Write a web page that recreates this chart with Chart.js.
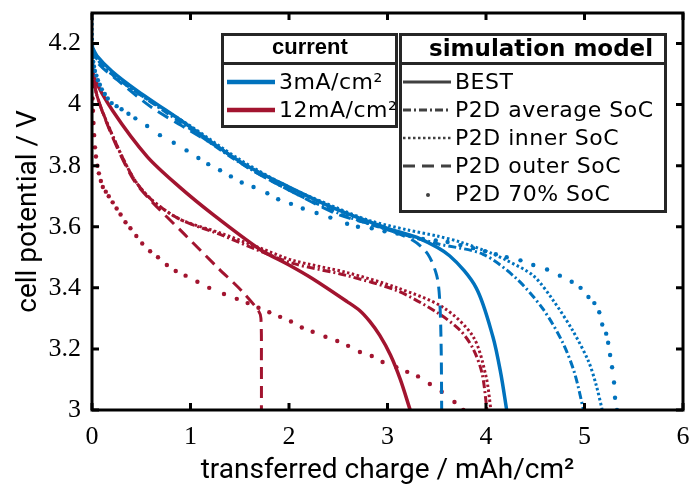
<!DOCTYPE html>
<html><head><meta charset="utf-8">
<script src="https://cdn.jsdelivr.net/npm/chart.js@4/dist/chart.umd.min.js"></script>
<style>
html,body{margin:0;padding:0;background:#fff;}
#wrap{position:relative;width:689px;height:486px;overflow:hidden;background:#fff;}
#c{position:absolute;left:0;top:0;}
.box{position:absolute;border:3px solid #262626;background:#fff;box-sizing:border-box;}
.sep{position:absolute;height:3px;background:#262626;}
.t{position:absolute;white-space:nowrap;line-height:1;color:#000;}
.lt{font-family:'DejaVu Sans';font-size:22px;letter-spacing:0.5px;}
</style></head><body>
<div id="wrap">
<canvas id="c" width="689" height="486"></canvas>
<div class="box" style="left:221px;top:33px;width:177px;height:95px;"></div>
<div class="sep" style="left:221px;top:62px;width:177px;"></div>
<div class="box" style="left:399px;top:33px;width:268px;height:180px;"></div>
<div class="sep" style="left:399px;top:62px;width:268px;"></div>
<div class="t" style="left:272px;top:36px;font-family:'Liberation Sans';font-weight:bold;font-size:22px;">current</div>
<div class="t" style="left:429px;top:37px;font-family:'DejaVu Sans';font-weight:bold;font-size:23px;">simulation model</div>
<div class="t lt" style="left:279px;top:71px;">3mA/cm²</div>
<div class="t lt" style="left:279px;top:99px;">12mA/cm²</div>
<div class="t lt" style="left:455px;top:71px;">BEST</div>
<div class="t lt" style="left:455px;top:99px;">P2D average SoC</div>
<div class="t lt" style="left:455px;top:127px;">P2D inner SoC</div>
<div class="t lt" style="left:455px;top:155px;">P2D outer SoC</div>
<div class="t lt" style="left:455px;top:183px;">P2D 70% SoC</div>
<svg style="position:absolute;left:0;top:0;" width="689" height="486">
 <line x1="227" y1="82" x2="275" y2="82" stroke="#0072BD" stroke-width="4.5"/>
 <line x1="227" y1="110" x2="275" y2="110" stroke="#A2142F" stroke-width="4.5"/>
 <line x1="403" y1="82" x2="451" y2="82" stroke="#404040" stroke-width="3"/>
 <line x1="403" y1="110" x2="451" y2="110" stroke="#404040" stroke-width="3" stroke-dasharray="8 3 2 3"/>
 <line x1="403" y1="138" x2="451" y2="138" stroke="#404040" stroke-width="2.5" stroke-dasharray="2.5 2.5"/>
 <line x1="403" y1="166" x2="451" y2="166" stroke="#404040" stroke-width="3" stroke-dasharray="12 7"/>
 <circle cx="428" cy="195" r="2" fill="#404040"/>
</svg>
</div>
<script>
// x: transferred charge (mAh/cm²), y: cell potential (V)
const xTicks = [0, 1, 2, 3, 4, 5, 6];
const yTicks = [3, 3.2, 3.4, 3.6, 3.8, 4, 4.2];

// 3 mA/cm²
const blueBestQ = [0, 0.05, 0.2, 0.44, 0.94, 1.52, 2.0, 2.5, 3.0, 3.3, 3.63, 3.9, 4.07, 4.15, 4.21];
const blueBestV = [4.19, 4.16, 4.11, 4.05, 3.94, 3.81, 3.73, 3.655, 3.595, 3.565, 3.505, 3.40, 3.24, 3.12, 3.0];
const blueAvgQ = [0, 0.05, 0.2, 0.5, 1.0, 1.5, 2.0, 2.5, 3.0, 3.5, 3.97, 4.31, 4.58, 4.78, 4.9, 4.99];
const blueAvgV = [4.19, 4.15, 4.10, 4.03, 3.92, 3.81, 3.72, 3.645, 3.59, 3.545, 3.51, 3.43, 3.33, 3.22, 3.12, 3.0];
const blueInnerQ = [0, 0.01, 0.05, 0.2, 0.5, 1.0, 1.5, 2.0, 2.5, 2.82, 3.2, 3.5, 3.74, 4.04, 4.21, 4.48, 4.68, 4.88, 5.04, 5.12, 5.18];
const blueInnerV = [4.30, 4.19, 4.15, 4.10, 4.03, 3.93, 3.82, 3.73, 3.66, 3.62, 3.59, 3.57, 3.55, 3.515, 3.49, 3.44, 3.36, 3.26, 3.16, 3.08, 3.0];
const blueOuterQ = [0, 0.05, 0.26, 0.61, 0.94, 1.28, 1.6, 2.0, 2.5, 2.92, 3.26, 3.41, 3.50, 3.53, 3.545, 3.55];
const blueOuterV = [4.19, 4.14, 4.08, 3.99, 3.925, 3.86, 3.79, 3.72, 3.64, 3.60, 3.555, 3.51, 3.44, 3.36, 3.2, 3.0];
const blue70Q = [0, 0.004, 0.008, 0.013, 0.02, 0.03, 0.045, 0.06, 0.08, 0.1, 0.13, 0.16, 0.2, 0.25, 0.3, 0.37, 0.44, 0.56, 0.69, 0.83, 0.96, 1.08, 1.18, 1.30, 1.41, 1.52, 1.64, 1.78, 1.89, 2.02, 2.14, 2.28, 2.42, 2.59, 2.70, 2.84, 2.97, 3.10, 3.23, 3.36, 3.49, 3.61, 3.74, 3.87, 3.99, 4.10, 4.21, 4.35, 4.48, 4.62, 4.75, 4.87, 4.96, 5.04, 5.10, 5.15, 5.18, 5.22, 5.24, 5.26, 5.28, 5.30, 5.31, 5.33];
const blue70V = [4.19, 4.17, 4.155, 4.14, 4.125, 4.11, 4.095, 4.08, 4.065, 4.05, 4.035, 4.02, 4.005, 3.995, 3.985, 3.97, 3.955, 3.93, 3.90, 3.875, 3.85, 3.825, 3.805, 3.785, 3.765, 3.745, 3.73, 3.71, 3.69, 3.675, 3.66, 3.645, 3.63, 3.61, 3.60, 3.595, 3.585, 3.578, 3.57, 3.56, 3.555, 3.55, 3.54, 3.53, 3.52, 3.51, 3.50, 3.49, 3.475, 3.46, 3.44, 3.42, 3.40, 3.37, 3.35, 3.32, 3.28, 3.25, 3.22, 3.18, 3.14, 3.09, 3.04, 3.0];

// 12 mA/cm²
const redBestQ = [0, 0.02, 0.21, 0.56, 0.89, 1.23, 1.71, 2.0, 2.24, 2.59, 2.72, 2.82, 2.92, 3.03, 3.13, 3.23];
const redBestV = [4.14, 4.09, 3.98, 3.83, 3.73, 3.64, 3.525, 3.475, 3.43, 3.355, 3.325, 3.29, 3.245, 3.18, 3.10, 3.0];
const redAvgQ = [0, 0.05, 0.22, 0.42, 0.6, 0.89, 1.3, 1.71, 2.04, 2.59, 3.1, 3.5, 3.74, 3.87, 3.96, 4.01];
const redAvgV = [4.13, 4.03, 3.89, 3.76, 3.69, 3.625, 3.575, 3.52, 3.48, 3.44, 3.39, 3.32, 3.26, 3.20, 3.12, 3.0];
const redInnerQ = [0, 0.05, 0.22, 0.42, 0.6, 0.89, 1.3, 1.71, 2.04, 2.59, 3.1, 3.57, 3.87, 4.0, 4.05];
const redInnerV = [4.13, 4.03, 3.89, 3.76, 3.69, 3.625, 3.58, 3.53, 3.49, 3.45, 3.40, 3.335, 3.24, 3.11, 3.0];
const redOuterQ = [0, 0.05, 0.22, 0.42, 0.6, 0.94, 1.28, 1.52, 1.69, 1.715, 1.72, 1.72];
const redOuterV = [4.13, 4.03, 3.885, 3.755, 3.685, 3.575, 3.465, 3.39, 3.325, 3.30, 3.15, 3.0];
const red70Q = [0, 0.003, 0.006, 0.01, 0.015, 0.022, 0.03, 0.04, 0.055, 0.07, 0.09, 0.11, 0.14, 0.17, 0.21, 0.25, 0.29, 0.34, 0.39, 0.45, 0.51, 0.59, 0.67, 0.76, 0.85, 0.95, 1.07, 1.19, 1.34, 1.47, 1.58, 1.69, 1.80, 1.91, 2.02, 2.13, 2.24, 2.37, 2.49, 2.60, 2.72, 2.84, 2.95, 3.09, 3.20, 3.31, 3.43, 3.55, 3.68, 3.77];
const red70V = [4.10, 4.06, 4.02, 3.98, 3.94, 3.90, 3.86, 3.83, 3.80, 3.775, 3.75, 3.73, 3.715, 3.70, 3.68, 3.66, 3.64, 3.615, 3.595, 3.57, 3.545, 3.52, 3.50, 3.475, 3.455, 3.44, 3.42, 3.40, 3.38, 3.364, 3.35, 3.335, 3.32, 3.305, 3.29, 3.27, 3.256, 3.24, 3.226, 3.21, 3.19, 3.177, 3.157, 3.14, 3.125, 3.11, 3.085, 3.06, 3.026, 3.0];

const BLUE = '#0072BD', RED = '#A2142F';
const pts = (xs, ys) => xs.map((x, i) => ({x: x, y: ys[i]}));
function line(xs, ys, color, width, dash) {
  return {data: pts(xs, ys), showLine: true, borderColor: color, backgroundColor: color, borderWidth: width,
          borderDash: dash, pointRadius: 0, pointHoverRadius: 0, tension: 0.3, fill: false, borderCapStyle: 'butt'};
}
function dots(xs, ys, color) {
  return {data: pts(xs, ys), showLine: false, pointRadius: 2.2, pointBorderWidth: 0,
          backgroundColor: color, borderColor: color, pointHoverRadius: 0};
}
const DASH = [12, 7], DASHDOT = [8, 3, 2, 3], DOT = [2.5, 2.5];

const frame = {
  id: 'frame',
  afterDatasetsDraw(chart) {
    const {ctx, chartArea: a, scales: {x, y}} = chart;
    ctx.save();
    ctx.strokeStyle = '#000';
    ctx.lineWidth = 3;
    ctx.setLineDash([]);
    ctx.beginPath();
    xTicks.forEach(v => {
      const px = x.getPixelForValue(v);
      ctx.moveTo(px, a.bottom); ctx.lineTo(px, a.bottom - 7);
      ctx.moveTo(px, a.top); ctx.lineTo(px, a.top + 7);
    });
    yTicks.forEach(v => {
      const py = y.getPixelForValue(v);
      ctx.moveTo(a.left, py); ctx.lineTo(a.left + 7, py);
      ctx.moveTo(a.right, py); ctx.lineTo(a.right - 7, py);
    });
    ctx.stroke();
    ctx.strokeRect(a.left, a.top, a.right - a.left, a.bottom - a.top);
    ctx.restore();
  }
};
const noPad = s => { s.paddingTop = 0; s.paddingBottom = 0; s.paddingLeft = 0; s.paddingRight = 0; };

new Chart(document.getElementById('c'), {
  type: 'scatter',
  data: {datasets: [
    line(blueBestQ, blueBestV, BLUE, 3.5, []),
    line(blueAvgQ, blueAvgV, BLUE, 3, DASHDOT),
    line(blueInnerQ, blueInnerV, BLUE, 3, DOT),
    line(blueOuterQ, blueOuterV, BLUE, 3, DASH),
    dots(blue70Q, blue70V, BLUE),
    line(redBestQ, redBestV, RED, 3.5, []),
    line(redAvgQ, redAvgV, RED, 3, DASHDOT),
    line(redInnerQ, redInnerV, RED, 3, DOT),
    line(redOuterQ, redOuterV, RED, 3, DASH),
    dots(red70Q, red70V, RED)
  ]},
  options: {
    responsive: false, animation: false, devicePixelRatio: 1,
    layout: {padding: {left: 0, top: 13, right: 6, bottom: 0}},
    plugins: {legend: {display: false}, tooltip: {enabled: false}},
    events: [],
    scales: {
      x: {
        type: 'linear', min: 0, max: 6,
        afterFit: s => { s.height = 76; noPad(s); },
        afterBuildTicks: s => { s.ticks = xTicks.map(v => ({value: v})); },
        grid: {display: false, drawTicks: false},
        border: {display: false},
        ticks: {padding: 12, maxRotation: 0, color: '#000', font: {family: 'Liberation Serif', size: 26}, callback: v => String(v)},
        title: {display: true, text: 'transferred charge / mAh/cm²', color: '#000',
                font: {family: 'Roboto', size: 28, lineHeight: 1}, padding: {top: 0, bottom: 1}}
      },
      y: {
        type: 'linear', min: 3, max: 4.3,
        afterFit: s => { s.width = 92; noPad(s); },
        afterBuildTicks: s => { s.ticks = yTicks.map(v => ({value: v})); },
        grid: {display: false, drawTicks: false},
        border: {display: false},
        ticks: {padding: 11, color: '#000', font: {family: 'Liberation Serif', size: 26}, callback: v => String(+v.toFixed(1))},
        title: {display: true, text: 'cell potential / V', color: '#000',
                font: {family: 'Roboto', size: 28, lineHeight: 1}, padding: {top: 15, bottom: 0}}
      }
    }
  },
  plugins: [frame]
});
</script>
</body></html>
